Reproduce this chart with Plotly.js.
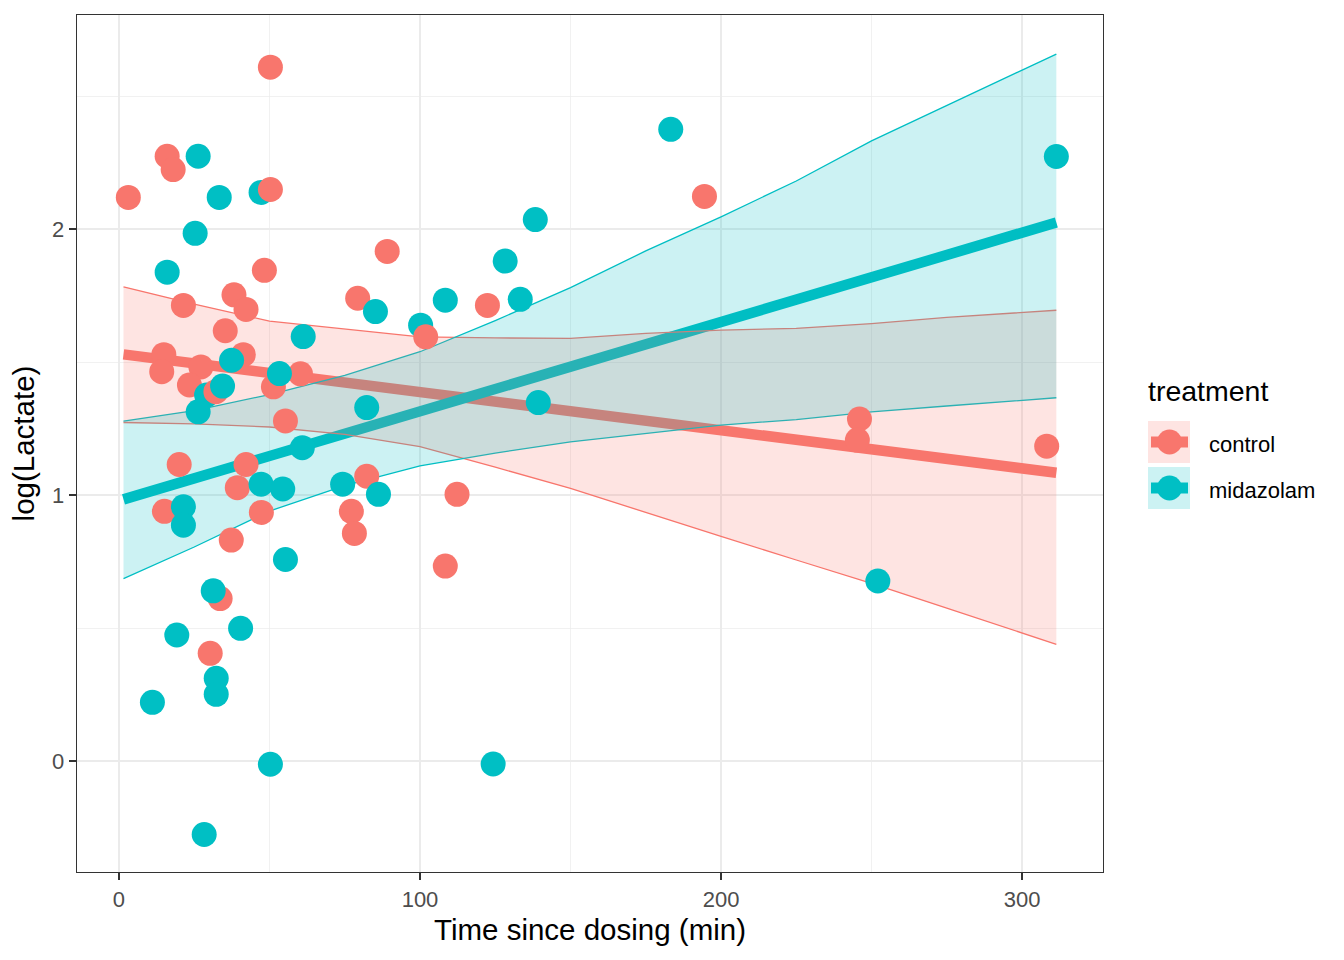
<!DOCTYPE html>
<html>
<head>
<meta charset="utf-8">
<script src="https://cdn.plot.ly/plotly-3.0.1.min.js"></script>
<style>
html,body{margin:0;padding:0;background:#ffffff;}
#chart{width:1344px;height:960px;}
</style>
</head>
<body>
<div id="chart"></div>
<script>
// ---- Data, rows in drawing order ----
const groups = ["control", "midazolam"];

const time = [
  // control
  50.3, 16.0, 18.0, 3.1, 48.3, 89.1, 38.2, 42.2, 21.4, 35.3,
  79.3, 14.9, 41.3, 14.2, 27.2, 23.4, 51.3, 60.3, 55.3, 20.0,
  42.2, 39.3, 15.1, 47.3, 37.3, 82.3, 77.2, 78.2, 33.6, 30.3,
  194.5, 122.4, 112.3, 108.4, 246.0, 245.3, 308.2,
  // midazolam / control interleaved
  29.1, 32.2,
  // midazolam
  26.3, 33.3, 47.2, 25.3, 16.0, 85.2, 61.2, 37.4, 100.2, 53.3,
  34.4, 26.3, 82.3, 60.9, 47.2, 54.4, 74.3, 86.2, 21.4, 21.4,
  55.3, 31.3, 40.4, 19.2, 32.3, 32.3, 11.1, 50.3, 28.3, 183.3,
  138.3, 128.3, 108.4, 133.3, 139.3, 124.3, 252.1, 311.4,
  // control drawn last
  50.3, 101.9
];
const lactate = [
  2.609, 2.274, 2.224, 2.119, 1.845, 1.916, 1.753, 1.698, 1.713, 1.618,
  1.740, 1.528, 1.528, 1.464, 1.482, 1.414, 1.407, 1.456, 1.279, 1.115,
  1.115, 1.028, 0.939, 0.935, 0.831, 1.071, 0.939, 0.856, 0.611, 0.405,
  2.123, 1.713, 1.003, 0.733, 1.286, 1.207, 1.184,
  1.376, 1.389,
  2.274, 2.119, 2.138, 1.984, 1.838, 1.690, 1.596, 1.507, 1.639, 1.457,
  1.410, 1.313, 1.329, 1.178, 1.041, 1.023, 1.041, 1.003, 0.956, 0.887,
  0.758, 0.640, 0.499, 0.474, 0.311, 0.251, 0.221, -0.012, -0.276, 2.375,
  2.036, 1.880, 1.733, 1.736, 1.348, -0.011, 0.677, 2.273,
  2.149, 1.595
];
const treatment = [
  "control","control","control","control","control","control","control","control","control","control",
  "control","control","control","control","control","control","control","control","control","control",
  "control","control","control","control","control","control","control","control","control","control",
  "control","control","control","control","control","control","control",
  "midazolam","control",
  "midazolam","midazolam","midazolam","midazolam","midazolam","midazolam","midazolam","midazolam","midazolam","midazolam",
  "midazolam","midazolam","midazolam","midazolam","midazolam","midazolam","midazolam","midazolam","midazolam","midazolam",
  "midazolam","midazolam","midazolam","midazolam","midazolam","midazolam","midazolam","midazolam","midazolam","midazolam",
  "midazolam","midazolam","midazolam","midazolam","midazolam","midazolam","midazolam","midazolam",
  "control","control"
];

// fitted lines and confidence bands, read at these times
const fitX = [1.5, 25, 50, 75, 100, 125, 150, 175, 200, 225, 250, 275, 311.4];
const controlFit   = [1.529, 1.495, 1.459, 1.423, 1.387, 1.351, 1.315, 1.280, 1.244, 1.208, 1.172, 1.136, 1.084];
const controlUpper = [1.783, 1.718, 1.654, 1.624, 1.595, 1.591, 1.589, 1.608, 1.620, 1.627, 1.645, 1.668, 1.695];
const controlLower = [1.273, 1.268, 1.256, 1.228, 1.182, 1.105, 1.025, 0.934, 0.845, 0.756, 0.668, 0.575, 0.439];
const midazolamFit   = [0.984, 1.063, 1.147, 1.231, 1.315, 1.399, 1.483, 1.567, 1.651, 1.735, 1.819, 1.903, 2.025];
const midazolamUpper = [1.278, 1.318, 1.378, 1.450, 1.539, 1.656, 1.780, 1.918, 2.046, 2.181, 2.332, 2.466, 2.658];
const midazolamLower = [0.686, 0.805, 0.940, 1.036, 1.110, 1.158, 1.200, 1.232, 1.263, 1.284, 1.313, 1.335, 1.366];

const xTickVals = [0, 100, 200, 300];
const xTickText = ["0", "100", "200", "300"];
const yTickVals = [0, 1, 2];
const yTickText = ["0", "1", "2"];
const xMinorVals = [50, 150, 250];
const yMinorVals = [0.5, 1.5, 2.5];

// ---- Styles ----
const COLORS = {control: "#F8766D", midazolam: "#00BFC4"};
const FILLS = {control: "rgba(248,118,109,0.2)", midazolam: "rgba(0,191,196,0.2)"};
const FONT = "'Liberation Sans', Arial, Helvetica, sans-serif";

// panel geometry in page pixels
const L = 77, R = 1103, T = 15, B = 872;
const W = 1344, H = 960;
const px = v => (v - L) / (R - L);
const py = v => (B - v) / (B - T);

function band(x, up, lo) {
  return {x: x.concat(x.slice().reverse()), y: up.concat(lo.slice().reverse())};
}
const cb = band(fitX, controlUpper, controlLower);
const mb = band(fitX, midazolamUpper, midazolamLower);
const RED = COLORS.control, TEAL = COLORS.midazolam;

const traces = [
  {x: fitX, y: controlFit, mode: "lines", line: {color: RED, width: 10.5}, hoverinfo: "skip"},
  {x: fitX, y: midazolamFit, mode: "lines", line: {color: TEAL, width: 10.5}, hoverinfo: "skip"},
  {x: fitX, y: controlUpper, mode: "lines", line: {color: RED, width: 1.3}, hoverinfo: "skip"},
  {x: fitX, y: controlLower, mode: "lines", line: {color: RED, width: 1.3}, hoverinfo: "skip"},
  {x: fitX, y: midazolamUpper, mode: "lines", line: {color: TEAL, width: 1.3}, hoverinfo: "skip"},
  {x: fitX, y: midazolamLower, mode: "lines", line: {color: TEAL, width: 1.3}, hoverinfo: "skip"},
  {x: cb.x, y: cb.y, mode: "none", fill: "toself", fillcolor: FILLS.control, hoverinfo: "skip"},
  {x: mb.x, y: mb.y, mode: "none", fill: "toself", fillcolor: FILLS.midazolam, hoverinfo: "skip"},
  {x: time, y: lactate, text: treatment, mode: "markers",
   marker: {color: treatment.map(t => COLORS[t]), size: 25}}
];

// ---- ggplot-style legend ----
const shapes = [];
const annotations = [];
groups.forEach((g, i) => {
  const top = 421 + i * 46, cy = top + 21;
  shapes.push({type: "rect", xref: "paper", yref: "paper", x0: px(1148), x1: px(1190), y0: py(top + 42), y1: py(top),
               fillcolor: FILLS[g], line: {width: 0}, layer: "above"});
  shapes.push({type: "line", xref: "paper", yref: "paper", x0: px(1151), x1: px(1188), y0: py(cy), y1: py(cy),
               line: {color: COLORS[g], width: 11}, layer: "above"});
  shapes.push({type: "circle", xref: "paper", yref: "paper", x0: px(1157), x1: px(1182), y0: py(cy + 12.5), y1: py(cy - 12.5),
               fillcolor: COLORS[g], line: {width: 0}, layer: "above"});
  annotations.push({text: g, xref: "paper", yref: "paper", x: px(1207), y: py(cy + 2), xanchor: "left", yanchor: "middle",
                    showarrow: false, font: {family: FONT, size: 22, color: "#000000"}});
});
annotations.push({text: "treatment", xref: "paper", yref: "paper", x: px(1146), y: py(391), xanchor: "left", yanchor: "middle",
                  showarrow: false, font: {family: FONT, size: 28.5, color: "#000000"}});

const axisCommon = {
  ticks: "outside", ticklen: 7, tickwidth: 1.3, tickcolor: "#333333",
  showline: true, linecolor: "#333333", linewidth: 1.3, mirror: true,
  showgrid: true, gridcolor: "#EBEBEB", gridwidth: 1.3, zeroline: false,
  tickfont: {family: FONT, size: 22, color: "#4D4D4D"}
};

const layout = {
  width: W, height: H,
  margin: {l: L, r: W - R, t: T, b: H - B, pad: 0},
  paper_bgcolor: "#ffffff", plot_bgcolor: "#ffffff",
  showlegend: false,
  font: {family: FONT},
  xaxis: Object.assign({}, axisCommon, {
    range: [-13.95, 326.9], tickmode: "array", tickvals: xTickVals, ticktext: xTickText,
    minor: {tickmode: "array", tickvals: xMinorVals, showgrid: true, gridcolor: "#EBEBEB", gridwidth: 0.7, ticks: ""},
    title: {text: "Time since dosing (min)", font: {family: FONT, size: 29.5, color: "#000000"}, standoff: 8}
  }),
  yaxis: Object.assign({}, axisCommon, {
    range: [-0.417, 2.805], tickmode: "array", tickvals: yTickVals, ticktext: yTickText,
    minor: {tickmode: "array", tickvals: yMinorVals, showgrid: true, gridcolor: "#EBEBEB", gridwidth: 0.7, ticks: ""},
    title: {text: "log(Lactate)", font: {family: FONT, size: 29.5, color: "#000000"}, standoff: 8}
  }),
  shapes: shapes,
  annotations: annotations
};

Plotly.newPlot("chart", traces, layout, {displayModeBar: false, staticPlot: true});
</script>
</body>
</html>
